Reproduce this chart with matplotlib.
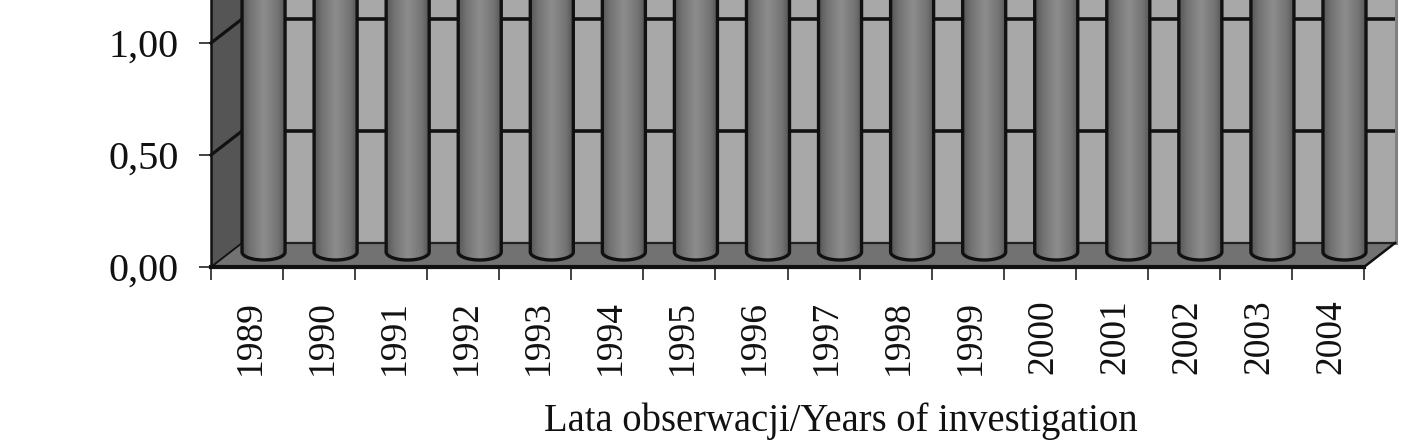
import numpy as np
import matplotlib
matplotlib.use("Agg")
import matplotlib.pyplot as plt
from matplotlib.path import Path
from matplotlib.colors import LinearSegmentedColormap
from matplotlib.transforms import ScaledTranslation

plt.rcParams['font.family'] = ['Liberation Serif', 'DejaVu Serif']

years = ['1989', '1990', '1991', '1992', '1993', '1994', '1995', '1996',
         '1997', '1998', '1999', '2000', '2001', '2002', '2003', '2004']
# The tops of the columns are cut off by the picture: only "above 1.19" is readable.
values = [1.5] * len(years)
y_ticks = [0.0, 0.5, 1.0]
y_labels = ['0,00', '0,50', '1,00']
x_title = 'Lata obserwacji/Years of investigation'

W, H = 1417, 446
PX_LEFT, PX_RIGHT, PX_BASE = 211, 1364, 267
PX_PER_UNIT = 224

fig = plt.figure(figsize=(W / 100, H / 100), dpi=100, facecolor='white')
ax = fig.add_axes([PX_LEFT / W, (H - PX_BASE) / H,
                   (PX_RIGHT - PX_LEFT) / W, PX_BASE / H])
ymax = PX_BASE / PX_PER_UNIT
n = len(years)

DX, DY = 31 / 72, 24 / PX_PER_UNIT      # 3-D depth offset
BAR_W = 43 / 72
BAR_SHIFT = 0.5 + 16.5 / 72
BASE_Y = 15 / PX_PER_UNIT
ELL_H = 8 / PX_PER_UNIT

INK = '#111111'

# walls and floor
ax.fill([DX, n + DX, n + DX, DX], [DY, DY, 2, 2], color='#a8a8a8', lw=0, zorder=1, clip_on=False)
ax.fill([0, DX, DX, 0], [0, DY, 2, 2], color='#555555', lw=0, zorder=1, clip_on=False)
ax.fill([0, DX, n + DX, n], [0, DY, DY, 0], color='#727272', lw=0, zorder=1, clip_on=False)
ax.plot([n + DX + 0.012] * 2, [DY, 2], color='#808080', lw=2.2, zorder=2, clip_on=False)

for t in y_ticks[1:]:
    ax.plot([DX, n + DX], [t + DY, t + DY], color=INK, lw=2.6, zorder=2, clip_on=False, solid_capstyle='butt')
    ax.plot([0, DX], [t, t + DY], color=INK, lw=2.3, zorder=2, clip_on=False)
ax.plot([DX, n + DX], [DY, DY], color='#222222', lw=1.6, zorder=2, clip_on=False)
ax.plot([DX, DX], [DY, 2], color=INK, lw=1.8, zorder=2, clip_on=False)
ax.plot([0, DX], [0, DY], color=INK, lw=1.3, zorder=2, clip_on=False)
ax.plot([n, n + DX], [0, DY], color=INK, lw=1.8, zorder=2, clip_on=False)

# cylinders
cmap = LinearSegmentedColormap.from_list(
    'cyl', [(0, '#565656'), (0.18, '#727272'), (0.5, '#8d8d8d'), (0.82, '#747474'), (1, '#525252')])
grad = np.linspace(0, 1, 128).reshape(1, -1)
theta = np.linspace(np.pi, 2 * np.pi, 50)
for i, v in enumerate(values):
    xc = i + BAR_SHIFT
    x_arc = xc + BAR_W / 2 * np.cos(theta)
    y_arc = BASE_Y + ELL_H * np.sin(theta)
    xs = np.r_[xc - BAR_W / 2, x_arc, xc + BAR_W / 2]
    ys = np.r_[v, y_arc, v]
    im = ax.imshow(grad, cmap=cmap, vmin=0, vmax=1, aspect='auto', zorder=3,
                   interpolation='bilinear',
                   extent=[xc - BAR_W / 2, xc + BAR_W / 2, BASE_Y - ELL_H, v])
    im.set_clip_box(fig.bbox)
    im.set_clip_path(Path(np.c_[np.r_[xs, xs[0]], np.r_[ys, ys[0]]]), ax.transData)
    ax.plot(xs, ys, color=INK, lw=2.4, zorder=4, clip_on=False)

ax.set_xlim(0, n)
ax.set_ylim(0, ymax)
ax.patch.set_visible(False)

for s in ('top', 'right'):
    ax.spines[s].set_visible(False)
ax.spines['left'].set_linewidth(1.8)
ax.spines['left'].set_color(INK)
ax.spines['left'].set_zorder(5)
ax.spines['bottom'].set_linewidth(3.0)
ax.spines['bottom'].set_color(INK)
ax.spines['bottom'].set_zorder(5)

ax.set_yticks(y_ticks, y_labels)
ax.tick_params(axis='y', length=9, width=1.1, color=INK, pad=14, labelsize=29, labelcolor='#111111')
ax.set_xticks(np.arange(n + 1))
ax.set_xticklabels([])
ax.set_xticks(np.arange(n) + 0.5, years, minor=True, rotation=90)
ax.tick_params(axis='x', which='major', length=9, width=1.1, color=INK)
ax.tick_params(axis='x', which='minor', length=0, pad=23.5, labelsize=27, labelcolor='#111111')
shift = ScaledTranslation(3 / 100, 0, fig.dpi_scale_trans)
for lab in ax.get_xticklabels(minor=True):
    lab.set_transform(lab.get_transform() + shift)
ax.set_xlabel(x_title, fontsize=27.8, color='#111111')
ax.xaxis.set_label_coords((841 - PX_LEFT) / (PX_RIGHT - PX_LEFT), (PX_BASE - 431) / PX_BASE)
ax.xaxis.label.set_verticalalignment('baseline')

fig.savefig('out.png', dpi=100, facecolor='white')
